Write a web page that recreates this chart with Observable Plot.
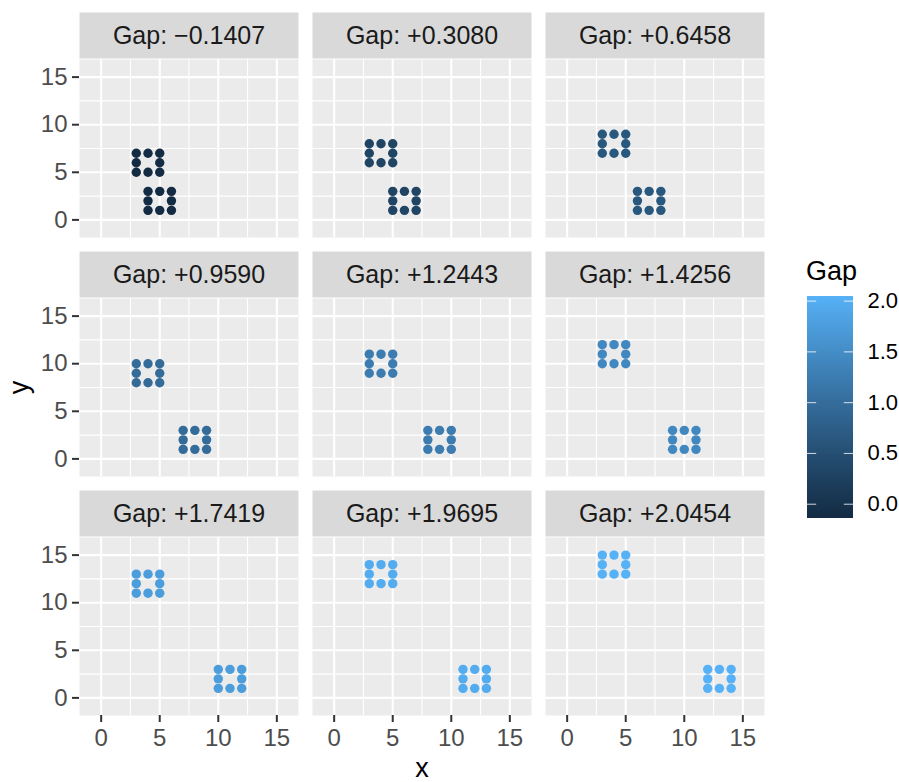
<!DOCTYPE html>
<html><head><meta charset="utf-8">
<script src="https://cdn.jsdelivr.net/npm/d3@7"></script>
<script src="https://cdn.jsdelivr.net/npm/@observablehq/plot@0.6"></script>
<style>
body{margin:0;background:#fff;}
#chart{position:relative;width:899px;height:782px;font-family:"Liberation Sans",Arial,Helvetica,sans-serif;}
#chart svg{position:absolute;left:0;top:0;overflow:visible;}
</style></head><body><div id="chart"></div>
<script>
// ---- data ----
const gaps = [-0.1407, 0.3080, 0.6458, 0.9590, 1.2443, 1.4256, 1.7419, 1.9695, 2.0454];
const gapLabels = ["Gap: \u22120.1407", "Gap: +0.3080", "Gap: +0.6458",
                   "Gap: +0.9590", "Gap: +1.2443", "Gap: +1.4256",
                   "Gap: +1.7419", "Gap: +1.9695", "Gap: +2.0454"];
// upper-left cluster: left x and bottom y per panel
const clusterAx = [3, 3, 3, 3, 3, 3, 3, 3, 3];
const clusterAy = [5, 6, 7, 8, 9, 10, 11, 12, 13];
// lower-right cluster: left x and bottom y per panel
const clusterBx = [4, 5, 6, 7, 8, 9, 10, 11, 12];
const clusterBy = [1, 1, 1, 1, 1, 1, 1, 1, 1];
// each cluster is a 3x3 ring (centre empty)
const ringDx = [0, 1, 2, 0, 2, 0, 1, 2];
const ringDy = [0, 0, 0, 1, 1, 2, 2, 2];
const axisTicks = [0, 5, 10, 15];
const minorTicks = [2.5, 7.5, 12.5];
const legendTicks = [0, 0.5, 1, 1.5, 2];

// ---- tables ----
const points = [];
gaps.forEach((g, i) => {
  ringDx.forEach((dx, k) => {
    points.push({x: clusterAx[i] + dx, y: clusterAy[i] + ringDy[k], gap: g, col: i % 3, row: Math.floor(i / 3)});
    points.push({x: clusterBx[i] + dx, y: clusterBy[i] + ringDy[k], gap: g, col: i % 3, row: Math.floor(i / 3)});
  });
});
const strips = gapLabels.map((label, i) => ({label, col: i % 3, row: Math.floor(i / 3)}));

// ---- layout ----
const W = 899, H = 782;
const mL = 78, mR = W - 766, mT = 58, mB = H - 717;
const panelW = 220, gapX = 14, panelH = 179, gapY = 61, stripH = 47;
const dom = [-1.85, 16.85];
const font = "Liberation Sans, Arial, Helvetica, sans-serif";
const colorOpts = {type: "linear", domain: [d3.min(gaps), d3.max(gaps)], range: ["#132B43", "#56B1F7"], interpolate: "lab"};

const main = Plot.plot({
  width: W, height: H,
  marginLeft: mL, marginRight: mR, marginTop: mT, marginBottom: mB,
  style: {fontFamily: font, background: "transparent", overflow: "visible"},
  x: {domain: dom, axis: null},
  y: {domain: dom, axis: null},
  fx: {domain: [0, 1, 2], axis: null, paddingInner: gapX / (panelW + gapX), paddingOuter: 0},
  fy: {domain: [0, 1, 2], axis: null, paddingInner: gapY / (panelH + gapY), paddingOuter: 0},
  color: colorOpts,
  marks: [
    Plot.frame({fill: "#EBEBEB", stroke: "none"}),
    Plot.frame({fill: "#D9D9D9", stroke: "none", insetTop: -stripH, insetBottom: panelH}),
    Plot.ruleX(minorTicks, {stroke: "white", strokeWidth: 1.1}),
    Plot.ruleY(minorTicks, {stroke: "white", strokeWidth: 1.1}),
    Plot.ruleX(axisTicks, {stroke: "white", strokeWidth: 2.1}),
    Plot.ruleY(axisTicks, {stroke: "white", strokeWidth: 2.1}),
    Plot.dot(points, {x: "x", y: "y", fx: "col", fy: "row", fill: "gap", r: 4.7}),
    Plot.text(strips, {fx: "col", fy: "row", text: "label", frameAnchor: "top", dy: -stripH / 2,
      lineAnchor: "middle", fill: "#1A1A1A", fontSize: 25}),
    Plot.axisX({ticks: axisTicks, anchor: "bottom", tickSize: 7, tickPadding: 6, stroke: "#333333",
      strokeWidth: 2, fill: "#4D4D4D", fontSize: 24, label: null}),
    Plot.axisY({ticks: axisTicks, anchor: "left", tickSize: 7, tickPadding: 5, stroke: "#333333",
      strokeWidth: 2, fill: "#4D4D4D", fontSize: 24, label: null})
  ]
});
const chart = document.getElementById("chart");
chart.appendChild(main);

// axis titles and legend title
const svg = d3.select(main);
svg.append("text").attr("x", (mL + W - mR) / 2).attr("y", 777).attr("text-anchor", "middle")
  .attr("font-size", 27).attr("font-family", font).attr("fill", "black").text("x");
svg.append("text").attr("transform", `translate(28,${(mT + H - mB) / 2}) rotate(-90)`).attr("text-anchor", "middle")
  .attr("font-size", 27).attr("font-family", font).attr("fill", "black").text("y");
svg.append("text").attr("x", 806).attr("y", 280).attr("text-anchor", "start").attr("font-size", 27)
  .attr("font-family", font).attr("fill", "black").text("Gap");

// ---- colourbar legend ----
const [lo, hi] = colorOpts.domain;
const legTop = 296, legBottom = 518, legLeft = 807, barW = 46;
const nSteps = legBottom - legTop;
const ramp = d3.range(nSteps).map(i => ({
  v1: lo + (hi - lo) * i / nSteps, v2: lo + (hi - lo) * Math.min(nSteps, i + 1.6) / nSteps, v: lo + (hi - lo) * (i + 0.5) / nSteps
}));
const legend = Plot.plot({
  width: barW + 60, height: (legBottom - legTop) + 20,
  marginLeft: 0, marginRight: 60, marginTop: 10, marginBottom: 10,
  style: {fontFamily: font, background: "transparent", overflow: "visible"},
  x: {domain: [0, 1], axis: null},
  y: {domain: [lo, hi], axis: null},
  color: colorOpts,
  marks: [
    Plot.rect(ramp, {x1: 0, x2: 1, y1: "v1", y2: "v2", fill: "v", shapeRendering: "crispEdges"}),
    Plot.ruleY(legendTicks, {x1: 0, x2: 0.2, stroke: "white", strokeOpacity: 0.8, strokeWidth: 1}),
    Plot.ruleY(legendTicks, {x1: 0.8, x2: 1, stroke: "white", strokeOpacity: 0.8, strokeWidth: 1}),
    Plot.axisY({ticks: legendTicks, tickFormat: d3.format(".1f"), anchor: "right", tickSize: 0, tickPadding: 14,
      fill: "black", fontSize: 22, label: null})
  ]
});
legend.style.left = legLeft + "px";
legend.style.top = (legTop - 10) + "px";
chart.appendChild(legend);
</script></body></html>
